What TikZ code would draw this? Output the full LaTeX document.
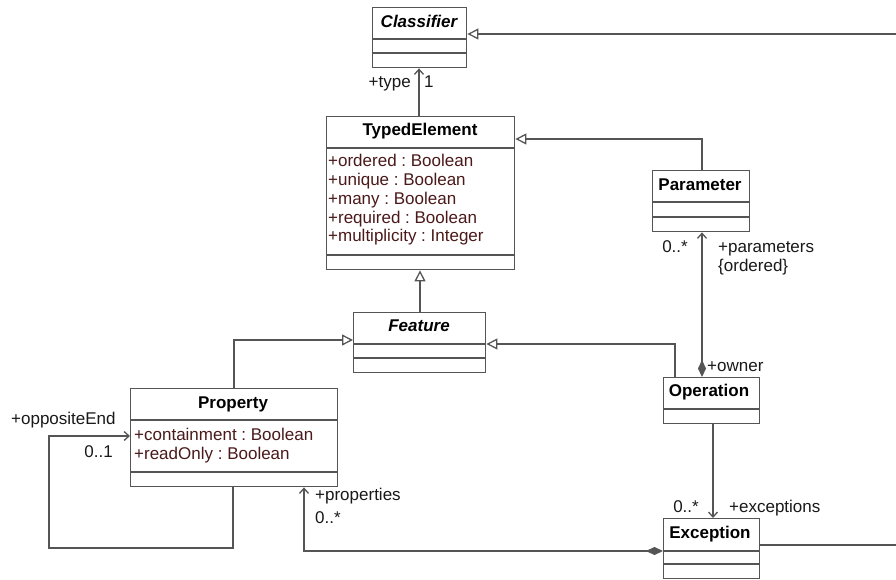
\documentclass[tikz,border=0pt]{standalone}
\usepackage{fontspec}
\setmainfont{Liberation Sans}
\usetikzlibrary{arrows.meta}
\definecolor{linec}{RGB}{85,85,85}
\definecolor{attrc}{RGB}{75,25,25}
\definecolor{txtc}{RGB}{25,25,25}
\frenchspacing
\begin{document}
\begin{tikzpicture}[x=1pt,y=-1pt,
 font=\fontsize{17}{19}\selectfont,
 cls/.style={draw=linec, fill=white, line width=1.4pt, inner sep=0pt, anchor=north west},
 div/.style={draw=linec, line width=1.4pt},
 cname/.style={font=\fontsize{17}{19}\selectfont\bfseries, text=black, inner sep=0pt, anchor=base},
 aname/.style={font=\fontsize{17}{19}\selectfont\bfseries\itshape, text=black, inner sep=0pt, anchor=base},
 attr/.style={text=attrc, anchor=base west, inner sep=0pt},
 lbl/.style={text=txtc, inner sep=0pt},
 conn/.style={draw=linec, line width=1.3pt},
 gen/.style={conn, arrows={-Triangle[open, length=11pt, width=11pt]}},
 nav/.style={conn, arrows={-Straight Barb[length=5pt, width=9pt]}},
 comp/.style={conn, arrows={Diamond[length=17pt, width=8pt]-Straight Barb[length=5pt, width=9pt]}},
]
\useasboundingbox[fill=white] (0,0) rectangle (896,580);

% Classifier
\node[cls, minimum width=94pt, minimum height=60pt] (cl) at (372,7) {};
\draw[div] (372,39) -- (466,39) (372,53) -- (466,53);
\node[aname] (cln) at (419,28) {Classifier};

% TypedElement
\node[cls, minimum width=188pt, minimum height=153pt] (te) at (326,116) {};
\draw[div] (326,148) -- (514,148) (326,255) -- (514,255);
\node[cname] (ten) at (420,136) {TypedElement};
\node[attr] (te1) at (328,167) {+ordered : Boolean};
\node[attr] (te2) at (328,185.7) {+unique : Boolean};
\node[attr] (te3) at (328,204.4) {+many : Boolean};
\node[attr] (te4) at (328,223) {+required : Boolean};
\node[attr] (te5) at (328,241.8) {+multiplicity : Integer};

% Parameter
\node[cls, minimum width=97pt, minimum height=61pt] (pa) at (652,170) {};
\draw[div] (652,202) -- (749,202) (652,217) -- (749,217);
\node[cname] (pan) at (700,190) {Parameter};

% Feature
\node[cls, minimum width=132pt, minimum height=60pt] (fe) at (353,312) {};
\draw[div] (353,344) -- (485,344) (353,358) -- (485,358);
\node[aname] (fen) at (419,331) {Feature};

% Property
\node[cls, minimum width=207pt, minimum height=98pt] (pr) at (130,388) {};
\draw[div] (130,420) -- (337,420) (130,472) -- (337,472);
\node[cname] (prn) at (233,408) {Property};
\node[attr] (pr1) at (134,440) {+containment : Boolean};
\node[attr] (pr2) at (134,459) {+readOnly : Boolean};

% Operation
\node[cls, minimum width=96pt, minimum height=46pt] (op) at (663,377) {};
\draw[div] (663,409) -- (759,409);
\node[cname] (opn) at (709,396) {Operation};

% Exception
\node[cls, minimum width=96pt, minimum height=60pt] (ex) at (663,518) {};
\draw[div] (663,551) -- (759,551) (663,564) -- (759,564);
\node[cname] (exn) at (710,538) {Exception};

% Connectors
\draw[nav] (te.north -| 419,0) -- (cl.south -| 419,0);
\node[lbl, anchor=base east] (ltype) at (411,88) {+type};
\node[lbl, anchor=base west] (lone) at (424,88) {1};

\draw[gen] (pa.north -| 702,0) |- (te.east |- 0,139);

\draw[comp] (op.north -| 702,0) -- (pa.south -| 702,0);
\node[lbl, anchor=base east] (lpm) at (688,252) {0..*};
\node[lbl, anchor=base west] (lpar) at (718,252) {+parameters};
\node[lbl, anchor=base west] (lord) at (718,271) {\{ordered\}};
\node[lbl, anchor=base west] (lown) at (707,371) {+owner};

\draw[gen] (fe.north -| 420,0) -- (te.south -| 420,0);
\draw[gen] (op.north -| 675,0) |- (fe.east |- 0,344);
\draw[gen] (pr.north -| 234,0) |- (fe.west |- 0,340);

\draw[nav] (pr.south -| 233,0) -- (233,548) -| (49,436) -- (pr.west |- 0,436);
\node[lbl, anchor=base west] (lopp) at (11,424) {+oppositeEnd};
\node[lbl, anchor=base east] (lopm) at (113,457) {0..1};

\draw[comp] (ex.west |- 0,551) -| (pr.south -| 304,0);
\node[lbl, anchor=base west] (lprop) at (315,500) {+properties};
\node[lbl, anchor=base west] (lprm) at (315,523) {0..*};

\draw[nav] (op.south -| 713,0) -- (ex.north -| 713,0);
\node[lbl, anchor=base east] (lexm) at (699,512) {0..*};
\node[lbl, anchor=base west] (lexc) at (729,512) {+exceptions};

\coordinate (offr) at (905,545);
\draw[gen] (ex.east |- 0,545) -- (offr) -- (905,34) -- (cl.east |- 0,34);
\end{tikzpicture}
\end{document}
